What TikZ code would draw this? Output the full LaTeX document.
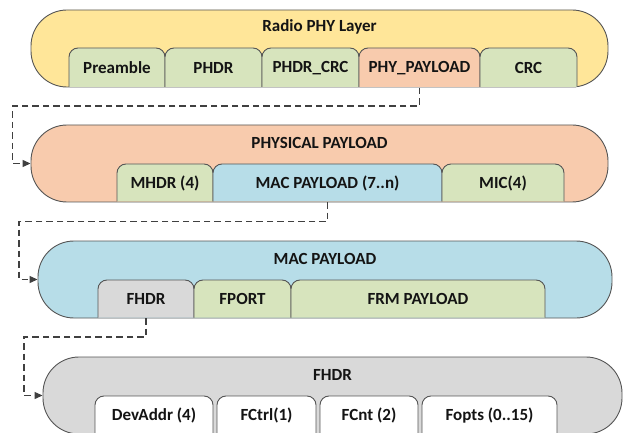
\documentclass[tikz,border=0pt]{standalone}
\usepackage{fontspec}
\setmainfont{Carlito}
\usetikzlibrary{arrows.meta}

\definecolor{edge}{HTML}{555555}
\definecolor{link}{HTML}{404040}
\definecolor{txt}{HTML}{141414}
\definecolor{yel}{HTML}{FFE699}
\definecolor{org}{HTML}{F8CBAD}
\definecolor{grn}{HTML}{D7E4BD}
\definecolor{blu}{HTML}{B7DDE8}
\definecolor{gry}{HTML}{D9D9D9}

\tikzset{
  pill/.style={draw=edge, line width=0.9pt, rounded corners=36pt, inner sep=0pt, minimum height=77pt},
  fieldshape/.style={draw=edge, line width=0.9pt, rounded corners=9pt},
  lbl/.style={font=\fontsize{17}{19}\selectfont\bfseries, text=txt, inner sep=0pt},
  conn/.style={draw=link, line width=1.2pt, dash pattern=on 6.5pt off 4pt,
               -{Triangle[length=8pt,width=7pt]}},
}

% #1 name, #2 left, #3 right, #4 top, #5 bottom, #6 fill, #7 text
\newcommand\fieldbox[7]{%
  \filldraw[fieldshape, fill=#6] (#2,{#5-0.5}) -- (#2,#4) -- (#3,#4) -- (#3,{#5-0.5});
  \node[lbl, minimum width={(#3-#2)*1pt}, minimum height={(#5-#4)*1pt}]
    (#1) at ({(#2+#3)/2},{(#4+#5)/2}) {#7};
}

\begin{document}
\begin{tikzpicture}[x=1pt, y=-1pt]
  \useasboundingbox (0,0) rectangle (627,433);
  \clip (0,0) rectangle (627,433);

  % Radio PHY layer
  \node[pill, fill=yel, minimum width=577pt] (radio) at (319.5,48.5) {};
  \node[lbl] (radioT) at (319.5,27) {Radio PHY Layer};
  \fieldbox{pre}{69}{165}{48}{87.5}{grn}{Preamble}
  \fieldbox{phdr}{165}{262}{48}{87.5}{grn}{PHDR}
  \fieldbox{phdrcrc}{262}{359}{48}{87.5}{grn}{PHDR\_CRC}
  \fieldbox{phy}{359}{480}{48}{87.5}{org}{PHY\_PAYLOAD}
  \fieldbox{crc}{480}{577}{48}{87.5}{grn}{CRC}

  % Physical payload
  \node[pill, fill=org, minimum width=577pt] (phys) at (319.5,163.5) {};
  \node[lbl] (physT) at (319.5,143) {PHYSICAL PAYLOAD};
  \fieldbox{mhdr}{117}{213}{164}{202}{grn}{MHDR (4)}
  \fieldbox{macp}{213}{442}{164}{202}{blu}{MAC PAYLOAD (7..n)}
  \fieldbox{mic}{442}{564}{164}{202}{grn}{MIC(4)}

  % MAC payload
  \node[pill, fill=blu, minimum width=574pt] (mac) at (325,279.5) {};
  \node[lbl] (macT) at (325,259) {MAC PAYLOAD};
  \fieldbox{fhdr}{98}{194}{280}{318}{gry}{FHDR}
  \fieldbox{fport}{194}{291}{280}{318}{grn}{FPORT}
  \fieldbox{frm}{291}{545}{280}{318}{grn}{FRM PAYLOAD}

  % Frame header
  \node[pill, fill=gry, minimum width=579pt] (fh) at (332.5,395.5) {};
  \node[lbl] (fhT) at (332.5,375) {FHDR};
  \fieldbox{dev}{95}{213}{396}{435}{white}{DevAddr (4)}
  \fieldbox{fctrl}{217}{316}{396}{435}{white}{FCtrl(1)}
  \fieldbox{fcnt}{320}{418}{396}{435}{white}{FCnt (2)}
  \fieldbox{fopts}{422}{557}{396}{435}{white}{Fopts (0..15)}

  % Expansion links
  \coordinate (b1) at (12.7,106);
  \coordinate (b2) at (19,221.5);
  \coordinate (b3) at (24,337);
  \draw[conn] (phy.south) -- (phy.south |- b1) -- (b1) |- (phys.west);
  \draw[conn] (macp.south) -- (macp.south |- b2) -- (b2) |- (mac.west);
  \draw[conn] (fhdr.south) -- (fhdr.south |- b3) -- (b3) |- (fh.west);
\end{tikzpicture}
\end{document}
